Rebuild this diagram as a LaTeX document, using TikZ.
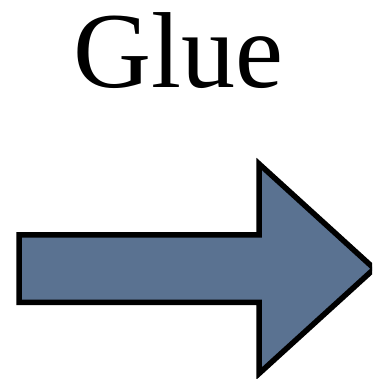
\documentclass[tikz,border=0pt]{standalone}
\usepackage{fontspec}
\setmainfont{Liberation Serif}
\definecolor{arrowfill}{HTML}{5A7291}
\tikzset{
  bigarrow/.style={draw=black, line width=5.5pt, fill=arrowfill, line join=miter, miter limit=10},
  title/.style={font=\fontsize{108}{108}\selectfont, inner sep=0pt, anchor=base}
}
\begin{document}
\begin{tikzpicture}[x=1pt,y=1pt]
\useasboundingbox (0,0) rectangle (372,379);
\clip (0,0) rectangle (372,379);
\node[title] (glue) at (178.5,291) {Glue};
\draw[bigarrow] (19,144) -- (259.2,144) -- (259.2,215) -- (374.3,110.3)
  -- (259.2,5.6) -- (259.2,76.5) -- (19,76.5) -- cycle;
\end{tikzpicture}
\end{document}
